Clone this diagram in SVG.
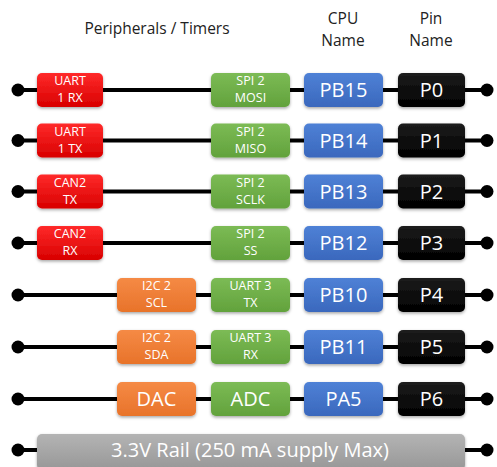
<svg xmlns="http://www.w3.org/2000/svg" width="497" height="467" viewBox="0 0 497 467">
<defs>
<linearGradient id="gRed" x1="0" y1="0" x2="0" y2="1"><stop offset="0" stop-color="#ff2a2a"/><stop offset="1" stop-color="#d80000"/></linearGradient>
<linearGradient id="gGreen" x1="0" y1="0" x2="0" y2="1"><stop offset="0" stop-color="#7cbb55"/><stop offset="1" stop-color="#62a23c"/></linearGradient>
<linearGradient id="gBlue" x1="0" y1="0" x2="0" y2="1"><stop offset="0" stop-color="#4f81d6"/><stop offset="1" stop-color="#3a68bd"/></linearGradient>
<linearGradient id="gBlack" x1="0" y1="0" x2="0" y2="1"><stop offset="0" stop-color="#1c1c1c"/><stop offset="1" stop-color="#000"/></linearGradient>
<linearGradient id="gOrange" x1="0" y1="0" x2="0" y2="1"><stop offset="0" stop-color="#f58a45"/><stop offset="1" stop-color="#e8732a"/></linearGradient>
<linearGradient id="gGray" x1="0" y1="0" x2="0" y2="1"><stop offset="0" stop-color="#b4b4b4"/><stop offset="1" stop-color="#979797"/></linearGradient>
<filter id="sh" x="-10%" y="-20%" width="120%" height="150%"><feDropShadow dx="0" dy="1.5" stdDeviation="1.5" flood-color="#000" flood-opacity="0.35"/></filter>
</defs>
<style>
text{font-family:"Open Sans","Liberation Sans",sans-serif;text-anchor:middle}
.hd{font-size:15.5px;fill:#222}
.sm{font-size:12.5px;fill:#fff}
.lg{font-size:20px;fill:#fff}
.rl{font-size:20px;fill:#fff}
.box{filter:url(#sh)}
.red{fill:url(#gRed)}
.green{fill:url(#gGreen)}
.blue{fill:url(#gBlue)}
.black{fill:url(#gBlack)}
.orange{fill:url(#gOrange)}
.gray{fill:url(#gGray)}
.wire{stroke:#000;stroke-width:4;fill:none}
.dot{fill:#000}
</style>
<rect width="497" height="467" fill="#fff"/>
<g id="headers">
<text class="hd" x="157" y="34">Peripherals / Timers</text>
<text class="hd" x="343" y="24">CPU</text>
<text class="hd" x="343" y="46">Name</text>
<text class="hd" x="431" y="24">Pin</text>
<text class="hd" x="431" y="46">Name</text>
</g>
<g id="connectors">
<line class="wire" x1="18" y1="90" x2="487" y2="90"/>
<line class="wire" x1="18" y1="140.5" x2="487" y2="140.5"/>
<line class="wire" x1="18" y1="191.5" x2="487" y2="191.5"/>
<line class="wire" x1="18" y1="243" x2="487" y2="243"/>
<line class="wire" x1="18" y1="295" x2="487" y2="295"/>
<line class="wire" x1="18" y1="347" x2="487" y2="347"/>
<line class="wire" x1="18" y1="399" x2="487" y2="399"/>
<line class="wire" x1="18" y1="450" x2="487" y2="450"/>
<circle class="dot" cx="18" cy="90" r="6.5"/><circle class="dot" cx="487" cy="90" r="6.5"/>
<circle class="dot" cx="18" cy="140.5" r="6.5"/><circle class="dot" cx="487" cy="140.5" r="6.5"/>
<circle class="dot" cx="18" cy="191.5" r="6.5"/><circle class="dot" cx="487" cy="191.5" r="6.5"/>
<circle class="dot" cx="18" cy="243" r="6.5"/><circle class="dot" cx="487" cy="243" r="6.5"/>
<circle class="dot" cx="18" cy="295" r="6.5"/><circle class="dot" cx="487" cy="295" r="6.5"/>
<circle class="dot" cx="18" cy="347" r="6.5"/><circle class="dot" cx="487" cy="347" r="6.5"/>
<circle class="dot" cx="18" cy="399" r="6.5"/><circle class="dot" cx="487" cy="399" r="6.5"/>
<circle class="dot" cx="18" cy="450" r="6.5"/><circle class="dot" cx="487" cy="450" r="6.5"/>
</g>
<!-- Row 0 -->
<g id="uart1rx"><rect class="box red" x="37" y="73" width="66" height="34" rx="5"/><text class="sm" x="70" y="85">UART</text><text class="sm" x="70" y="102">1 RX</text></g>
<g id="spi2mosi"><rect class="box green" x="211" y="73" width="79" height="34" rx="5"/><text class="sm" x="250.5" y="85">SPI 2</text><text class="sm" x="250.5" y="102">MOSI</text></g>
<g id="pb15"><rect class="box blue" x="304" y="73" width="79" height="34" rx="5"/><text class="lg" x="343.5" y="97">PB15</text></g>
<g id="p0"><rect class="box black" x="398" y="73" width="67" height="34" rx="5"/><text class="lg" x="431.5" y="97">P0</text></g>
<!-- Row 1 -->
<g id="uart1tx"><rect class="box red" x="37" y="123.5" width="66" height="34" rx="5"/><text class="sm" x="70" y="135.5">UART</text><text class="sm" x="70" y="152.5">1 TX</text></g>
<g id="spi2miso"><rect class="box green" x="211" y="123.5" width="79" height="34" rx="5"/><text class="sm" x="250.5" y="135.5">SPI 2</text><text class="sm" x="250.5" y="152.5">MISO</text></g>
<g id="pb14"><rect class="box blue" x="304" y="123.5" width="79" height="34" rx="5"/><text class="lg" x="343.5" y="147.5">PB14</text></g>
<g id="p1"><rect class="box black" x="398" y="123.5" width="67" height="34" rx="5"/><text class="lg" x="431.5" y="147.5">P1</text></g>
<!-- Row 2 -->
<g id="can2tx"><rect class="box red" x="37" y="174.5" width="66" height="34" rx="5"/><text class="sm" x="70" y="186.5">CAN2</text><text class="sm" x="70" y="203.5">TX</text></g>
<g id="spi2sclk"><rect class="box green" x="211" y="174.5" width="79" height="34" rx="5"/><text class="sm" x="250.5" y="186.5">SPI 2</text><text class="sm" x="250.5" y="203.5">SCLK</text></g>
<g id="pb13"><rect class="box blue" x="304" y="174.5" width="79" height="34" rx="5"/><text class="lg" x="343.5" y="198.5">PB13</text></g>
<g id="p2"><rect class="box black" x="398" y="174.5" width="67" height="34" rx="5"/><text class="lg" x="431.5" y="198.5">P2</text></g>
<!-- Row 3 -->
<g id="can2rx"><rect class="box red" x="37" y="226" width="66" height="34" rx="5"/><text class="sm" x="70" y="238">CAN2</text><text class="sm" x="70" y="255">RX</text></g>
<g id="spi2ss"><rect class="box green" x="211" y="226" width="79" height="34" rx="5"/><text class="sm" x="250.5" y="238">SPI 2</text><text class="sm" x="250.5" y="255">SS</text></g>
<g id="pb12"><rect class="box blue" x="304" y="226" width="79" height="34" rx="5"/><text class="lg" x="343.5" y="250">PB12</text></g>
<g id="p3"><rect class="box black" x="398" y="226" width="67" height="34" rx="5"/><text class="lg" x="431.5" y="250">P3</text></g>
<!-- Row 4 -->
<g id="i2c2scl"><rect class="box orange" x="117" y="278" width="79" height="34" rx="5"/><text class="sm" x="156.5" y="290">I2C 2</text><text class="sm" x="156.5" y="307">SCL</text></g>
<g id="uart3tx"><rect class="box green" x="211" y="278" width="79" height="34" rx="5"/><text class="sm" x="250.5" y="290">UART 3</text><text class="sm" x="250.5" y="307">TX</text></g>
<g id="pb10"><rect class="box blue" x="304" y="278" width="79" height="34" rx="5"/><text class="lg" x="343.5" y="302">PB10</text></g>
<g id="p4"><rect class="box black" x="398" y="278" width="67" height="34" rx="5"/><text class="lg" x="431.5" y="302">P4</text></g>
<!-- Row 5 -->
<g id="i2c2sda"><rect class="box orange" x="117" y="330" width="79" height="34" rx="5"/><text class="sm" x="156.5" y="342">I2C 2</text><text class="sm" x="156.5" y="359">SDA</text></g>
<g id="uart3rx"><rect class="box green" x="211" y="330" width="79" height="34" rx="5"/><text class="sm" x="250.5" y="342">UART 3</text><text class="sm" x="250.5" y="359">RX</text></g>
<g id="pb11"><rect class="box blue" x="304" y="330" width="79" height="34" rx="5"/><text class="lg" x="343.5" y="354">PB11</text></g>
<g id="p5"><rect class="box black" x="398" y="330" width="67" height="34" rx="5"/><text class="lg" x="431.5" y="354">P5</text></g>
<!-- Row 6 -->
<g id="dac"><rect class="box orange" x="117" y="382" width="79" height="34" rx="5"/><text class="lg" x="156.5" y="406">DAC</text></g>
<g id="adc"><rect class="box green" x="211" y="382" width="79" height="34" rx="5"/><text class="lg" x="250.5" y="406">ADC</text></g>
<g id="pa5"><rect class="box blue" x="304" y="382" width="79" height="34" rx="5"/><text class="lg" x="343.5" y="406">PA5</text></g>
<g id="p6"><rect class="box black" x="398" y="382" width="67" height="34" rx="5"/><text class="lg" x="431.5" y="406">P6</text></g>
<!-- Rail -->
<g id="rail"><rect class="box gray" x="37" y="434" width="428" height="36" rx="5"/><text class="rl" x="250" y="457">3.3V Rail (250 mA supply Max)</text></g>
</svg>
